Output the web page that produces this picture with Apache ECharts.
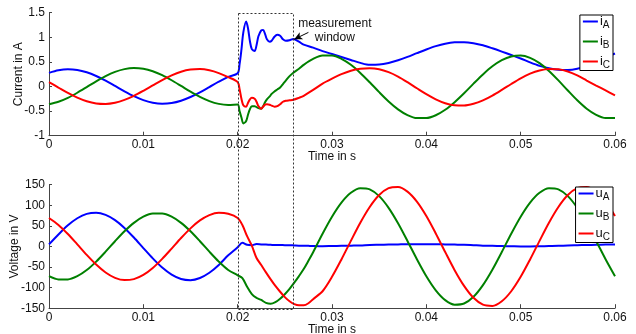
<!DOCTYPE html>
<html>
<head>
<meta charset="utf-8">
<script src="https://cdn.jsdelivr.net/npm/echarts@6/dist/echarts.min.js"></script>
<style>html,body{margin:0;padding:0;background:#fff}#main{width:636px;height:334px}</style>
</head>
<body>
<div id="main"></div>
<script>
// sample times in ms (denser during the fault transient)
const timeCur = [0,1,2,3,4,5,6,7,8,9,10,11,12,13,14,15,16,17,18,19,20,
  20.2,20.4,20.6,20.9,21.1,21.3,21.5,21.8,22.0,22.2,22.5,22.7,22.9,23.1,23.4,23.6,23.9,24.2,24.5,24.8,25.1,25.5,25.9,26.5,27.0,
  28,29,30,31,32,33,34,35,36,37,38,39,40,41,42,43,44,45,46,47,48,49,50,51,52,53,54,55,56,57,58,59,60];

const iA = [0.277,0.329,0.350,0.336,0.289,0.214,0.119,0.011,-0.098,-0.197,-0.277,-0.329,-0.350,-0.336,-0.289,-0.214,-0.119,-0.011,0.098,0.197,0.270,
  0.45,0.75,1.10,1.32,1.18,0.92,0.76,0.72,0.84,1.02,1.14,1.15,1.07,0.96,0.91,0.93,1.01,1.05,1.03,0.96,0.93,0.94,0.965,0.91,0.85,
  0.79,0.72,0.66,0.60,0.54,0.48,0.44,0.445,0.478,0.532,0.601,0.678,0.753,0.820,0.871,0.898,0.901,0.88,0.838,0.777,0.71,0.64,0.57,0.49,0.42,0.37,0.34,0.335,0.36,0.42,0.50,0.59,0.67];

const iB = [-0.360,-0.310,-0.230,-0.127,-0.012,0.105,0.211,0.296,0.353,0.375,0.360,0.310,0.230,0.127,0.012,-0.105,-0.211,-0.296,-0.353,-0.375,-0.365,
  -0.50,-0.63,-0.75,-0.70,-0.57,-0.46,-0.40,-0.40,-0.42,-0.44,-0.45,-0.40,-0.32,-0.26,-0.20,-0.15,-0.10,-0.06,-0.02,0.05,0.12,0.21,0.28,0.36,0.44,
  0.56,0.63,0.629,0.562,0.441,0.276,0.085,-0.115,-0.304,-0.464,-0.581,-0.642,-0.642,-0.584,-0.473,-0.318,-0.137,0.058,0.246,0.411,0.536,0.611,0.629,0.582,0.474,0.316,0.124,-0.082,-0.281,-0.452,-0.576,-0.642,-0.642];

const iC = [0.088,-0.022,-0.131,-0.226,-0.300,-0.344,-0.354,-0.330,-0.273,-0.190,-0.088,0.022,0.131,0.226,0.300,0.344,0.354,0.330,0.273,0.190,0.090,
  -0.05,-0.25,-0.38,-0.41,-0.33,-0.26,-0.23,-0.25,-0.31,-0.40,-0.45,-0.41,-0.37,-0.36,-0.37,-0.39,-0.41,-0.40,-0.36,-0.31,-0.29,-0.28,-0.27,-0.23,-0.19,
  -0.07,0.06,0.16,0.25,0.32,0.36,0.37,0.35,0.291,0.201,0.088,-0.035,-0.155,-0.26,-0.339,-0.383,-0.387,-0.352,-0.282,-0.185,-0.07,0.051,0.166,0.261,0.327,0.358,0.35,0.305,0.225,0.121,0.02,-0.08,-0.18];

const timeVolt = [0,1,2,3,4,5,6,7,8,9,10,11,12,13,14,15,16,17,18,19,20,
  20.5,21,21.5,22,22.5,23,23.5,24,24.5,25,25.5,26,26.5,27,27.5,
  28,29,30,31,32,33,34,35,36,37,38,39,40,41,42,43,44,45,46,47,48,49,50,51,52,53,54,55,56,57,58,59,60];

const uA = [5,29.0,51.3,68.5,79.1,81.9,76.7,64.0,45.0,21.6,-3.9,-29.0,-51.3,-68.5,-79.1,-81.9,-76.7,-64.0,-45.0,-21.6,-2,
  9,4,3,6,5,4.5,4,3.5,3.5,3,3,2.5,2,2,1.5,
  1,0.5,1,1.5,2,2.5,3.5,4,4.5,5,5.5,5.5,5.5,5.5,5,4.5,4,3,2,1.5,1,0.5,0,0,0.5,1,1.5,2.5,3,3.5,4,4.5,5];

const uB = [-72.2,-80.0,-80.0,-72.2,-57.3,-36.8,-12.7,12.7,36.8,57.3,72.2,80.0,80.0,72.2,57.3,36.8,12.7,-12.7,-36.8,-57.3,-70,
  -77,-98,-116,-125,-130,-137,-139,-135,-127,-116,-103,-88,-72,-55,-35,
  -14,31,72.3,106.5,130.3,141.4,138.6,122.2,93.8,56.4,13.4,-31,-72.3,-106.5,-130.3,-141.4,-138.6,-122.2,-93.8,-56.4,-13.4,31,72.3,106.5,130.3,141.4,138.6,122.2,93.8,56.4,13.4,-31,-72.3];

const uC = [69.2,52.3,30.2,5.1,-20.4,-43.9,-63.2,-76.2,-81.8,-79.4,-69.2,-52.3,-30.2,-5.1,20.4,43.9,63.2,76.2,81.8,79.4,69.2,
  52,25,2,-28,-45,-63,-80,-96,-110,-123,-133,-140,-143,-143,-138,
  -128,-108.8,-73.8,-31.6,13.6,57.6,95.8,124.8,141.5,144.4,133.1,108.8,73.8,31.6,-13.6,-57.6,-95.8,-124.8,-141.5,-144.4,-133.1,-108.8,-73.8,-31.6,13.6,57.6,95.8,124.8,141.5,144.4,133.1,108.8,73.8];

// measurement window (s)
const windowStart = 0.02;
const windowEnd = 0.0258;

const font = 'Liberation Sans';
const chart = echarts.init(document.getElementById('main'), null, { renderer: 'canvas' });

function pairs(times, vals) {
  return times.map((t, i) => [t / 1000, vals[i]]);
}

function makeSeries(name, times, vals, color, idx) {
  return {
    name: name,
    type: 'line',
    xAxisIndex: idx,
    yAxisIndex: idx,
    data: pairs(times, vals),
    symbol: 'none',
    smooth: 0.3,
    lineStyle: { color: color, width: 2 },
    itemStyle: { color: color },
    animation: false
  };
}

function xAx(idx) {
  return {
    type: 'value', gridIndex: idx, min: 0, max: 0.06, interval: 0.01,
    name: 'Time in s', nameLocation: 'middle', nameGap: 15, nameMoveOverlap: false,
    nameTextStyle: { fontFamily: font, fontSize: 12, color: '#111' },
    axisLine: { onZero: false, lineStyle: { color: '#444', width: 1 } },
    axisTick: { inside: true, length: 4, lineStyle: { color: '#444' } },
    axisLabel: { margin: 3, fontFamily: font, fontSize: 12, color: '#111' },
    splitLine: { show: false }
  };
}

function yAx(idx, name, min, max, interval, gap) {
  return {
    type: 'value', gridIndex: idx, min: min, max: max, interval: interval,
    name: name, nameLocation: 'middle', nameGap: gap, nameMoveOverlap: false,
    nameTextStyle: { fontFamily: font, fontSize: 12, color: '#111' },
    axisLine: { show: true, onZero: false, lineStyle: { color: '#444', width: 1 } },
    axisTick: { show: true, inside: true, length: 3, lineStyle: { color: '#444' } },
    axisLabel: { margin: 4, fontFamily: font, fontSize: 12, color: '#111' },
    splitLine: { show: false }
  };
}

function legendFor(names, top, width) {
  return {
    data: names,
    orient: 'vertical',
    right: 23,
    top: top,
    width: width,
    icon: 'rect',
    itemWidth: 15,
    itemHeight: 2,
    itemGap: 4.5,
    padding: [0, 3, 0, 3],
    backgroundColor: '#fff',
    borderColor: '#000',
    borderWidth: 1,
    borderRadius: 0,
    formatter: n => '{n|' + n[0] + '}{s|' + n[1] + '}',
    textStyle: {
      fontFamily: font, color: '#111', padding: [0, 0, 0, -3],
      rich: {
        n: { fontFamily: font, fontSize: 13, color: '#111', lineHeight: 18, verticalAlign: 'middle' },
        s: { fontFamily: font, fontSize: 10, color: '#111', lineHeight: 10, verticalAlign: 'bottom' }
      }
    }
  };
}

chart.setOption({
  animation: false,
  grid: [
    { left: 49, right: 21, top: 12.7, height: 123, outerBoundsMode: 'none', containLabel: false },
    { left: 49, right: 21, top: 184.7, height: 123.5, outerBoundsMode: 'none', containLabel: false }
  ],
  xAxis: [xAx(0), xAx(1)],
  yAxis: [yAx(0, 'Current in A', -1, 1.5, 0.5, 24), yAx(1, 'Voltage in V', -150, 150, 50, 28)],
  legend: [legendFor(['iA', 'iB', 'iC'], 15, 26), legendFor(['uA', 'uB', 'uC'], 187, 30)],
  series: [
    Object.assign(makeSeries('iA', timeCur, iA, '#0000ff', 0), {
      markLine: {
        silent: true,
        symbol: ['none', 'arrow'],
        symbolSize: [6, 8],
        lineStyle: { color: '#000', width: 1, type: 'solid' },
        label: { show: false },
        data: [[{ coord: [0.0275, 1.10] }, { coord: [0.0260, 0.96] }]]
      }
    }),
    makeSeries('iB', timeCur, iB, '#008000', 0),
    makeSeries('iC', timeCur, iC, '#ff0000', 0),
    makeSeries('uA', timeVolt, uA, '#0000ff', 1),
    makeSeries('uB', timeVolt, uB, '#008000', 1),
    makeSeries('uC', timeVolt, uC, '#ff0000', 1)
  ]
});

// dashed measurement window spanning both plots, plus its label
const p1 = chart.convertToPixel({ gridIndex: 0 }, [windowStart, 1.5]);
const p2 = chart.convertToPixel({ gridIndex: 1 }, [windowEnd, -150]);
const pt = chart.convertToPixel({ gridIndex: 0 }, [0.0303, 1.14]);
chart.setOption({
  graphic: [
    {
      type: 'rect', z: 10, silent: true,
      shape: { x: Math.round(p1[0]) + 0.5, y: Math.round(p1[1]) + 0.5, width: Math.round(p2[0] - p1[0]), height: Math.round(p2[1] - p1[1]) },
      style: { fill: 'none', stroke: '#333', lineWidth: 1, lineDash: [2, 2] }
    },
    {
      type: 'text', z: 10, silent: true,
      x: pt[0], y: pt[1],
      style: { text: 'measurement\nwindow', fontFamily: font, fontSize: 12, lineHeight: 14, fill: '#111', align: 'center', verticalAlign: 'middle' }
    }
  ]
});
</script>
</body>
</html>
